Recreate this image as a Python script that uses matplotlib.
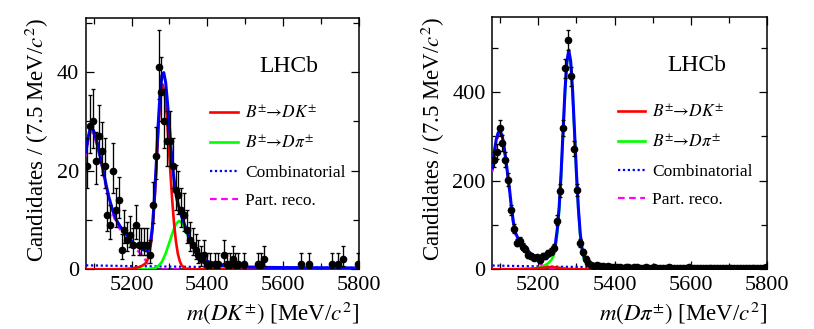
import numpy as np
import matplotlib
matplotlib.use("Agg")
import matplotlib.pyplot as plt
from matplotlib.ticker import MultipleLocator
from matplotlib.lines import Line2D

plt.rcParams['font.family'] = ['Liberation Serif', 'DejaVu Serif']
plt.rcParams['mathtext.fontset'] = 'stix'

# ---------------- data ----------------
bin_lo = 5080.0
bin_width = 7.5

counts_DK = [21, 29, 30, 22, 27, 24, 21, 11, 9, 20, 12, 14, 4, 8, 6, 7, 5, 9, 5, 5,
             5, 5, 3, 13, 23, 41, 36, 30, 26, 26, 21, 16, 15, 12, 11, 8, 6, 5, 4, 3,
             2, 3, 1, 1, 0, 1, 1, 0, 3, 1, 1, 2, 1, 1, 0, 1, 0, 0, 0, 0,
             1, 1, 2, 0, 0, 0, 0, 0, 0, 0, 0, 0, 0, 0, 0, 1, 0, 0, 1, 0,
             0, 0, 0, 0, 0, 0, 1, 0, 1, 0, 2, 0, 0, 0, 0, 1]

counts_Dpi = [247, 265, 318, 284, 247, 201, 133, 92, 60, 63, 51, 45, 32, 29, 25, 27, 22, 30, 29, 36,
              40, 48, 110, 177, 319, 453, 517, 435, 271, 178, 59, 38, 24, 15, 10, 8, 9, 8, 7, 6,
              7, 5, 6, 5, 6, 4, 5, 6, 4, 5, 5, 4, 3, 5, 4, 4, 5, 3, 4, 4,
              3, 5, 4, 3, 4, 4, 3, 4, 5, 3, 3, 4, 4, 3, 2, 4, 3, 4, 3, 3,
              4, 3, 2, 3, 4, 3, 3, 2, 4, 3, 3, 2, 3, 3, 2, 5]

# ---- fit curves, DK panel ----
tot_DK_x = [5080, 5085, 5090, 5095, 5100, 5110, 5120, 5130, 5140, 5150, 5160, 5170, 5180, 5190,
            5200, 5210, 5220, 5230, 5240, 5245, 5250, 5255, 5260, 5265, 5270, 5275, 5280, 5285,
            5290, 5295, 5300, 5305, 5310, 5315, 5320, 5325, 5330, 5340, 5350, 5360, 5370, 5380,
            5390, 5400, 5420, 5450, 5500, 5550, 5600, 5700, 5800]
tot_DK_y = [23.8, 26.6, 28.3, 28.8, 28.1, 25.6, 22.0, 18.2, 14.7, 12.0, 10.0, 8.7, 7.7, 6.8,
            5.8, 5.0, 4.5, 4.0, 3.7, 4.0, 5.4, 8.6, 14.0, 21.1, 29.0, 35.4, 39.3, 39.9,
            37.9, 33.6, 28.8, 23.7, 19.6, 16.5, 14.1, 12.6, 11.2, 9.0, 7.0, 5.3, 3.9, 2.8,
            2.1, 1.6, 1.0, 0.68, 0.48, 0.39, 0.35, 0.31, 0.27]
sig_DK_x = [5080, 5150, 5180, 5200, 5220, 5230, 5237, 5242, 5247, 5252, 5257, 5262, 5267, 5272,
            5277, 5282, 5287, 5292, 5297, 5302, 5307, 5312, 5317, 5322, 5327, 5332, 5342, 5360, 5800]
sig_DK_y = [0, 0.01, 0.05, 0.15, 0.45, 0.8, 1.2, 1.9, 3.2, 5.6, 9.7, 15.6, 22.9, 30.0,
            35.5, 37.5, 36.1, 32.1, 26.5, 20.2, 14.3, 9.4, 5.7, 3.2, 1.7, 0.8, 0.15, 0, 0]
mis_DK_x = [5080, 5240, 5260, 5270, 5280, 5290, 5300, 5310, 5317, 5325, 5332, 5340, 5350, 5360,
            5370, 5380, 5390, 5400, 5420, 5450, 5500, 5550, 5800]
mis_DK_y = [0, 0, 0.2, 0.6, 1.5, 3.2, 5.5, 7.8, 9.2, 9.8, 9.5, 8.3, 6.5, 4.8,
            3.4, 2.3, 1.6, 1.1, 0.55, 0.25, 0.08, 0.02, 0]
comb_DK_x = [5080, 5200, 5300, 5400, 5500, 5600, 5700, 5800]
comb_DK_y = [0.8, 0.65, 0.55, 0.46, 0.40, 0.35, 0.31, 0.27]
prc_DK_x = [5080, 5085, 5090, 5095, 5100, 5110, 5120, 5130, 5140, 5150, 5160, 5170, 5180, 5190,
            5200, 5210, 5220, 5230, 5240, 5245, 5250, 5255, 5260, 5800]
prc_DK_y = [23.0, 25.8, 27.5, 28.0, 27.3, 24.8, 21.3, 17.5, 14.0, 11.3, 9.3, 8.0, 7.0, 6.0,
            5.0, 4.1, 3.5, 2.6, 1.5, 0.8, 0.3, 0.05, 0, 0]

# ---- fit curves, Dpi panel ----
tot_Dpi_x = [5080, 5085, 5090, 5095, 5100, 5105, 5110, 5115, 5120, 5125, 5130, 5135, 5140, 5150,
             5160, 5170, 5180, 5190, 5200, 5210, 5220, 5230, 5235, 5240, 5245, 5250, 5255, 5260,
             5265, 5270, 5275, 5280, 5285, 5290, 5295, 5300, 5305, 5310, 5315, 5320, 5325, 5330,
             5340, 5350, 5370, 5400, 5450, 5500, 5600, 5700, 5800]
tot_Dpi_y = [228.5, 266.4, 293.3, 308.3, 311.2, 303.1, 280.0, 247.9, 212.8, 177.8, 137.7, 105.6,
             83.5, 62.9, 53.2, 44.5, 35.8, 30.1, 25.9, 24.8, 25.7, 30.1, 34.3, 41.2, 58.5, 91.7,
             144.0, 220.4, 312.7, 403.2, 469.7, 494.3, 469.1, 401.8, 310.7, 217.5, 138.4, 80.3,
             45.2, 27.2, 19.2, 14.1, 10.1, 8.0, 6.2, 5.1, 4.6, 4.3, 4.0, 3.7, 3.5]
sig_Dpi_x = [5080, 5150, 5180, 5190, 5200, 5210, 5220, 5230, 5235, 5240, 5245, 5250, 5255, 5260,
             5265, 5270, 5275, 5280, 5290, 5300, 5320, 5350, 5800]
sig_Dpi_y = [0, 0.3, 1.0, 1.6, 2.4, 3.4, 4.4, 5.0, 5.0, 4.7, 4.3, 3.8, 3.2, 2.6,
             2.0, 1.5, 1.1, 0.8, 0.4, 0.2, 0.05, 0, 0]
mis_Dpi_x = [5080, 5150, 5180, 5190, 5200, 5210, 5220, 5230, 5235, 5240, 5245, 5250, 5255, 5260,
             5265, 5270, 5275, 5280, 5285, 5290, 5295, 5300, 5305, 5310, 5315, 5320, 5325, 5330,
             5340, 5350, 5370, 5400, 5450, 5500, 5800]
mis_Dpi_y = [0, 0.3, 1.0, 1.8, 3.0, 6.0, 10.0, 17.0, 22.0, 30.0, 48.0, 82.0, 135.0, 212.0,
             305.0, 396.0, 463.0, 488.0, 463.0, 396.0, 305.0, 212.0, 133.0, 75.0, 40.0, 22.0, 14.0, 9.0,
             5.0, 3.0, 1.2, 0.4, 0.1, 0, 0]
comb_Dpi_x = [5080, 5200, 5300, 5400, 5500, 5600, 5700, 5800]
comb_Dpi_y = [8.5, 6.5, 5.3, 4.7, 4.3, 4.0, 3.7, 3.5]
prc_Dpi_x = [5080, 5085, 5090, 5095, 5100, 5105, 5110, 5115, 5120, 5125, 5130, 5135, 5140, 5150,
             5160, 5170, 5180, 5190, 5200, 5210, 5220, 5230, 5240, 5250, 5800]
prc_Dpi_y = [220, 258, 285, 300, 303, 295, 272, 240, 205, 170, 130, 98, 76, 55,
             45, 36, 27, 20, 14, 9, 5, 2, 0.5, 0, 0]

legend_labels = [r'$B^{\pm}\!\!\rightarrow\! DK^{\pm}$', r'$B^{\pm}\!\!\rightarrow\! D\pi^{\pm}$',
                 'Combinatorial', 'Part. reco.']
xlabels = [r'$m(DK^{\pm})$ [MeV/$c^2$]', r'$m(D\pi^{\pm})$ [MeV/$c^2$]']
ylabel = r'Candidates / (7.5 MeV/$c^2$)'
xlim = (5080, 5800)
ylims = [(0, 51), (0, 570)]
ymajor = [20, 200]
yminor = [10, 100]

RED, GREEN, BLUE, MAGENTA = '#ff0000', '#00ff00', '#0000ff', '#ff00ff'


def poisson_err(n):
    n = np.asarray(n, dtype=float)
    lo = n * (1 - 1 / (9 * n) - 1 / (3 * np.sqrt(n))) ** 3
    m = n + 1
    hi = m * (1 - 1 / (9 * m) + 1 / (3 * np.sqrt(m))) ** 3
    return n - lo, hi - n


fig = plt.figure(figsize=(8.14, 3.29), dpi=100)
ax1 = fig.add_axes([0.1057, 0.1815, 0.3354, 0.764])
ax2 = fig.add_axes([0.6050, 0.1815, 0.3376, 0.768])

panels = [
    (ax1, counts_DK, (tot_DK_x, tot_DK_y), (sig_DK_x, sig_DK_y), (mis_DK_x, mis_DK_y),
     (comb_DK_x, comb_DK_y), (prc_DK_x, prc_DK_y)),
    (ax2, counts_Dpi, (tot_Dpi_x, tot_Dpi_y), (sig_Dpi_x, sig_Dpi_y), (mis_Dpi_x, mis_Dpi_y),
     (comb_Dpi_x, comb_Dpi_y), (prc_Dpi_x, prc_Dpi_y)),
]

for i, (ax, counts, tot, dk, dpi_, comb, prc) in enumerate(panels):
    counts = np.asarray(counts, dtype=float)
    centers = bin_lo + bin_width * (np.arange(len(counts)) + 0.5)
    mask = counts > 0
    lo, hi = poisson_err(counts[mask])

    lw = 1.9
    ax.plot(prc[0], prc[1], color=MAGENTA, lw=1.6, ls=(0, (3, 2)), zorder=3)
    ax.plot(comb[0], comb[1], color=BLUE, lw=1.6, ls=(0, (1, 1.2)), zorder=3)
    ax.plot(dpi_[0], dpi_[1], color=GREEN, lw=lw, zorder=4)
    ax.plot(dk[0], dk[1], color=RED, lw=lw, zorder=4)
    ax.plot(tot[0], tot[1], color=BLUE, lw=2.2, zorder=5)

    ax.errorbar(centers[mask], counts[mask], yerr=[lo, hi], fmt='o', color='black',
                ms=4.5, elinewidth=0.95, capsize=1.6, capthick=0.95, zorder=6)

    ax.set_xlim(*xlim)
    ax.set_ylim(*ylims[i])
    ax.xaxis.set_major_locator(MultipleLocator(200))
    ax.xaxis.set_minor_locator(MultipleLocator(100))
    ax.yaxis.set_major_locator(MultipleLocator(ymajor[i]))
    ax.yaxis.set_minor_locator(MultipleLocator(yminor[i]))
    ax.tick_params(which='both', direction='in', top=True, right=True, labelsize=16, width=0.9)
    ax.tick_params(which='major', length=6, pad=5)
    ax.tick_params(which='minor', length=4)
    for sp in ax.spines.values():
        sp.set_linewidth(1.1)

    ax.set_xlabel(xlabels[i], fontsize=16.5, loc='right', labelpad=3)
    ax.set_ylabel(ylabel, fontsize=16.5, loc='top', labelpad=4)
    ax.text(0.743, 0.806, 'LHCb', transform=ax.transAxes, fontsize=17, ha='center', va='center')

    handles = [Line2D([], [], color=RED, lw=lw),
               Line2D([], [], color=GREEN, lw=lw),
               Line2D([], [], color=BLUE, lw=1.6, ls=(0, (1, 1.2))),
               Line2D([], [], color=MAGENTA, lw=1.6, ls=(0, (3, 2)))]
    ax.legend(handles, legend_labels, loc='upper left', bbox_to_anchor=(0.455, 0.655),
              frameon=False, fontsize=12.5, handlelength=1.6, handletextpad=0.4,
              labelspacing=0.72, borderaxespad=0, borderpad=0)

fig.savefig('out.png', dpi=100)
